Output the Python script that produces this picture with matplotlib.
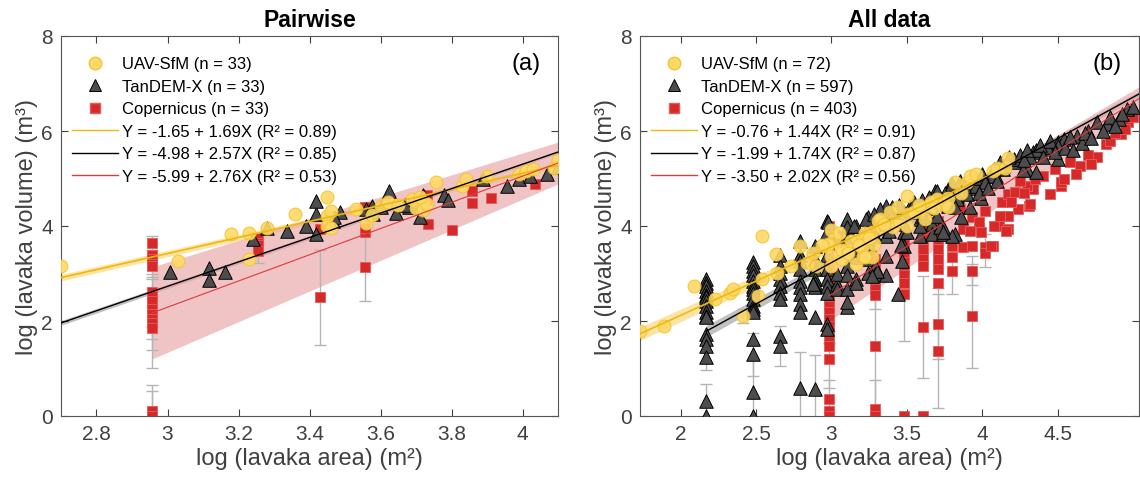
import numpy as np
import matplotlib
matplotlib.use("Agg")
import matplotlib.pyplot as plt
from matplotlib.lines import Line2D

plt.rcParams['font.family'] = ['Liberation Sans', 'DejaVu Sans']

# ---------------- panel (a): pairwise ----------------
uav_a_x = [2.70, 3.03, 3.18, 3.23, 3.23, 3.28, 3.36, 3.45, 3.45, 3.46, 3.45, 3.46,
           3.53, 3.56, 3.575, 3.60, 3.62, 3.65, 3.69, 3.70, 3.72, 3.72, 3.73, 3.755,
           3.83, 3.84, 3.90, 3.99, 4.01, 4.03, 4.09, 4.10, 3.71]
uav_a_y = [3.16, 3.27, 3.83, 3.85, 3.31, 3.95, 4.25, 4.62, 4.22, 4.32, 3.99, 3.95,
           4.35, 4.07, 4.24, 4.42, 4.51, 4.45, 4.57, 4.37, 4.53, 4.33, 4.47, 4.92,
           4.84, 4.98, 5.06, 5.10, 5.15, 5.20, 5.22, 5.38, 4.62]

tdx_a_x = [3.007, 3.118, 3.118, 3.162, 3.242, 3.28, 3.336, 3.39, 3.418, 3.418, 3.418,
           3.467, 3.486, 3.56, 3.575, 3.625, 3.645, 3.68, 3.71, 3.72, 3.78, 3.79, 3.89,
           3.955, 3.99, 4.07, 4.10, 3.67, 3.58, 3.47, 3.60, 3.70, 4.02]
tdx_a_y = [3.03, 3.11, 2.86, 3.03, 3.73, 3.95, 3.89, 4.01, 3.83, 4.25, 4.53,
           4.11, 4.30, 4.36, 4.43, 4.74, 4.28, 4.40, 4.20, 4.66, 4.65, 4.55, 4.98,
           4.85, 5.00, 5.10, 5.25, 4.45, 4.25, 4.18, 4.40, 4.48, 5.05]

cop_a_x = [2.955] * 15 + [3.255, 3.255, 3.255, 3.255, 3.43, 3.43, 3.556, 3.556, 3.556,
           3.556, 3.73, 3.73, 3.735, 3.80, 3.857, 3.857, 3.91, 4.035]
cop_a_y = [3.64, 3.40, 3.30, 3.20, 3.15, 2.62, 2.52, 2.43, 2.25, 2.15, 2.05, 1.95, 1.85,
           0.10, 0.0,
           3.75, 3.65, 3.60, 3.47, 2.50, 3.94, 3.13, 3.87, 3.95, 4.39, 4.65, 4.55,
           4.04, 3.92, 4.73, 4.48, 4.60, 4.88]
# error bars on single Copernicus points (x, y, half-length)
err_a = [(2.955, 0.0, 0.53), (2.955, 0.10, 0.56), (2.955, 1.85, 0.45),
         (2.955, 1.95, 0.94), (2.955, 2.15, 0.52), (2.955, 2.43, 0.56),
         (2.955, 3.15, 0.22), (2.955, 3.64, 0.15), (3.255, 3.47, 0.25),
         (3.43, 2.50, 1.0), (3.556, 3.13, 0.70)]

# fits: intercept, slope, R2, x-range, band half-width at both ends
fit_a_uav = (-1.65, 1.69, 0.89, (2.70, 4.10), (0.07, 0.05))
fit_a_tdx = (-4.98, 2.57, 0.85, (2.70, 4.10), (0.05, 0.03))
fit_a_cop = (-5.99, 2.76, 0.53, (2.955, 4.10), (0.97, 0.44))

# ---------------- panel (b): all data ----------------
uav_b_x = [1.73, 1.89, 2.09, 2.23, 2.33, 2.35, 2.41, 2.51, 2.54, 2.54, 2.63, 2.64,
           2.73, 2.79, 2.84, 2.88, 2.90, 2.97, 3.00, 3.00, 3.02, 3.07, 3.10, 3.13,
           3.16, 3.21, 3.21, 3.27, 3.27, 3.31, 2.98, 3.00, 3.07, 3.11, 3.20, 3.22,
           3.22, 3.28, 3.32, 3.33, 3.39, 3.41, 3.50, 3.50, 3.51, 3.59, 3.62, 3.64,
           3.70, 3.74, 3.77, 3.77, 3.82, 3.90, 3.92, 3.96, 4.07, 4.10, 4.15, 4.17,
           3.45, 3.55, 3.66, 3.68, 3.35, 3.18, 3.05, 2.94, 3.44, 3.58, 3.25, 3.86]
uav_b_y = [1.78, 1.89, 2.73, 2.46, 2.59, 2.67, 2.11, 2.52, 3.78, 2.88, 3.41, 3.01,
           3.16, 3.57, 3.22, 3.44, 3.16, 3.57, 3.92, 3.37, 3.73, 3.30, 3.48, 3.69,
           3.20, 3.71, 3.37, 3.88, 3.34, 4.11, 3.62, 3.16, 3.50, 3.44, 3.55, 3.86,
           3.34, 3.62, 4.15, 3.97, 4.29, 3.97, 4.64, 4.01, 4.25, 4.36, 4.15, 4.43,
           4.57, 4.46, 4.60, 4.39, 4.93, 4.92, 5.06, 5.09, 5.16, 5.23, 5.23, 5.43,
           4.10, 4.30, 4.50, 4.38, 4.05, 3.60, 3.85, 3.60, 4.40, 4.45, 3.75, 4.70]

tdx_b_cols = {
    2.17: [2.88, 2.80, 2.74, 2.64, 2.55, 2.50, 2.43, 2.32, 2.18, 2.11, 2.08, 1.73,
           1.62, 1.48, 1.24, 0.32, 0.01],
    2.48: [3.24, 3.16, 3.06, 2.96, 2.85, 2.74, 2.67, 2.60, 2.46, 2.32, 2.25, 2.18,
           1.62, 1.30, 0.50, 0.0],
    2.66: [3.39, 3.16, 3.02, 2.88, 2.74, 2.60, 2.46, 1.69, 1.48],
    2.79: [3.69, 3.39, 3.27, 3.09, 2.85, 2.71, 2.57, 2.36, 2.18, 0.60],
    2.89: [3.58, 3.30, 3.09, 2.88, 2.81, 2.71, 2.08, 0.57],
    2.97: [4.11, 3.87, 3.62, 3.39, 3.09, 2.88, 2.74, 2.60, 1.94, 1.83],
}
tdx_b_x = [3.04, 3.04, 3.04, 3.10, 3.10, 3.10, 3.10, 3.10, 3.10, 3.16, 3.16, 3.16,
           3.24, 3.24, 3.24, 3.24, 3.24, 3.24, 3.29, 3.29, 3.29, 3.29, 3.36, 3.36,
           3.36, 3.36, 3.36, 3.44, 3.48, 3.48, 3.48, 3.59, 3.59, 3.67, 3.67, 3.74,
           3.74, 3.82, 2.98, 3.23, 3.32, 3.41, 3.52, 3.69, 3.77, 3.83, 3.92, 3.99,
           4.09, 4.14, 4.21, 4.30, 4.34, 4.43, 4.50, 3.30, 3.27, 3.16, 3.10, 2.88,
           3.47, 3.72, 3.80, 4.96, 4.91, 4.83, 4.76, 4.70, 4.63, 4.54, 4.50, 4.43,
           4.36, 4.32, 4.27, 4.36, 4.50, 4.21, 4.14, 4.05, 3.96, 3.90, 3.83, 3.77,
           3.70, 3.70, 3.61, 3.59, 3.50, 3.74, 3.46, 3.55, 3.60, 3.65, 3.75, 3.80,
           3.85, 3.88, 3.95, 4.00, 4.02, 4.08, 4.12, 4.18, 4.25, 4.28, 4.30, 4.38,
           4.40, 4.45, 4.48, 4.55, 4.58, 4.60, 4.66, 4.68, 4.72, 4.80, 4.85, 4.88,
           4.93, 5.00, 3.45, 3.40, 3.35, 3.28, 3.15, 3.05, 3.58, 3.63, 3.72, 3.82,
           3.86, 3.92, 3.98, 4.04, 4.10, 3.48, 3.38, 3.25, 3.15, 3.10]
tdx_b_y = [2.78, 2.67, 2.99, 4.15, 3.97, 3.16, 2.96, 2.67, 2.29, 3.99, 3.34, 2.88,
           4.18, 3.97, 3.73, 3.55, 3.30, 3.02, 4.08, 3.80, 3.16, 2.99, 4.43, 4.04,
           3.80, 3.37, 2.96, 2.57, 4.29, 3.87, 3.58, 4.15, 3.80, 4.04, 3.83, 3.97,
           3.83, 3.83, 4.08, 4.15, 4.36, 4.29, 4.43, 4.74, 4.78, 4.64, 4.81, 4.60,
           5.06, 5.20, 5.34, 5.20, 5.55, 5.62, 5.76, 3.06, 2.95, 2.81, 2.39, 2.78,
           3.27, 3.97, 3.80, 6.46, 6.25, 6.15, 6.18, 6.01, 5.90, 5.83, 5.69, 5.66,
           5.59, 5.45, 5.17, 5.13, 5.41, 5.41, 5.27, 5.06, 4.85, 4.67, 4.57, 4.43,
           4.74, 4.22, 4.22, 4.01, 3.87, 3.87, 3.59, 4.50, 4.55, 4.62, 4.70, 4.88,
           4.95, 4.85, 5.02, 5.10, 4.92, 5.20, 5.35, 5.45, 5.50, 5.38, 5.60, 5.70,
           5.45, 5.80, 5.55, 5.65, 5.88, 5.60, 5.75, 5.95, 5.85, 6.00, 6.30, 6.10,
           6.35, 6.50, 4.45, 4.40, 4.20, 4.25, 4.00, 3.80, 4.30, 4.38, 4.50, 4.40,
           4.20, 4.40, 4.70, 4.80, 4.95, 4.05, 3.90, 3.60, 3.55, 3.70]

cop_b_cols = {
    2.985: [4.01, 3.87, 3.73, 3.58, 3.44, 3.30, 3.16, 3.02, 2.88, 2.74, 2.60, 2.46,
            2.32, 2.18, 2.04, 1.90, 1.76, 1.62, 1.48, 1.20, 0.36, 0.11, 0.0],
    3.29: [3.30, 3.09, 2.81, 2.67, 2.55, 1.48, 0.15, 0.01],
    3.48: [3.65, 3.52, 3.38, 3.24, 3.10, 2.96, 2.81, 2.57, 0.0],
    3.61: [4.36, 4.20, 4.05, 3.94, 3.73, 3.52, 3.30, 3.16, 1.87, 0.0],
    3.71: [4.10, 3.73, 3.52, 3.30, 3.10, 2.81, 1.94, 1.37],
}
cop_b_x = [3.80, 3.80, 3.80, 3.87, 3.87, 3.93, 3.93, 3.93, 4.02, 4.02, 4.07, 4.11,
           4.17, 4.17, 4.24, 4.31, 4.34, 4.45, 4.52, 3.85, 3.93, 4.02, 4.13, 4.17,
           3.98, 4.97, 4.92, 4.82, 4.76, 4.65, 4.52, 4.32, 4.30, 4.22, 4.19, 4.12,
           4.16, 4.08, 3.99, 3.98, 3.92, 4.06, 4.54, 4.40, 4.48, 4.58, 4.62, 4.70,
           4.72, 4.85, 4.88, 4.95, 5.00, 4.35, 4.25, 4.28]
cop_b_y = [3.58, 3.34, 3.06, 3.94, 3.55, 3.58, 3.06, 2.11, 3.55, 3.44, 3.58, 4.00,
           3.94, 4.22, 4.36, 4.43, 4.78, 4.67, 4.85, 4.36, 4.18, 4.32, 4.50, 4.67,
           3.94, 6.18, 5.94, 5.73, 5.45, 5.27, 4.92, 4.46, 4.85, 4.71, 4.50, 4.22,
           3.90, 4.01, 3.87, 4.08, 3.90, 3.58, 4.99, 5.05, 5.20, 5.35, 5.10, 5.50,
           5.30, 5.80, 5.95, 6.05, 6.30, 5.00, 4.95, 4.70]

err_b = [(3.29, 1.48, 1.45), (3.29, 0.15, 0.60), (3.29, 2.55, 0.30),
         (2.985, 1.20, 0.60), (2.985, 0.36, 0.40), (2.985, 2.04, 0.50),
         (3.48, 2.57, 1.00), (3.61, 1.87, 1.08), (3.71, 1.37, 1.20),
         (3.71, 1.94, 0.75), (3.80, 3.06, 0.50), (3.93, 2.11, 1.10),
         (4.02, 3.48, 0.35), (3.93, 3.06, 0.30),
         (2.17, 1.24, 0.28), (2.17, 0.32, 0.36), (2.48, 0.50, 0.70),
         (2.48, 1.30, 0.45), (2.66, 1.48, 0.42), (2.79, 0.60, 0.75),
         (2.89, 0.57, 0.72), (2.41, 2.11, 0.15)]

fit_b_uav = (-0.76, 1.44, 0.91, (1.73, 4.17), (0.14, 0.08))
fit_b_tdx = (-1.99, 1.74, 0.87, (2.17, 5.04), (0.12, 0.06))
fit_b_cop = (-3.50, 2.02, 0.56, (2.985, 5.04), (0.53, 0.25))

n_a = (33, 33, 33)
n_b = (72, 597, 403)

YEL, YEL_E, YEL_B = '#FFD966', '#F4C430', '#FBD873'
GRY, GRY_B = '#4D4D4D', '#A0A0A0'
RED, RED_E, RED_B = '#D62A2A', '#E85A5A', '#E8A3A6'
AX_C = '#404040'


def cols_to_xy(cols, xs, ys):
    cx = [k for k, v in cols.items() for _ in v]
    cy = [y for v in cols.values() for y in v]
    return cx + list(xs), cy + list(ys)


def draw_fit(ax, fit, color, band, lw):
    b0, b1, r2, (x0, x1), (w0, w1) = fit
    xx = np.array([x0, x1])
    yy = b0 + b1 * xx
    ax.fill_between(xx, yy - [w0, w1], yy + [w0, w1], color=band,
                    alpha=0.65, lw=0, zorder=1)
    ax.plot(xx, yy, color=color, lw=lw, zorder=6)
    return f"Y = {b0:.2f} + {b1:.2f}X (R\u00b2 = {r2:.2f})"


def panel(ax, uav, tdx, cop, errs, fits, ns, title, tag, xlim, xticks):
    for x, y, e in errs:
        ax.errorbar(x, y, yerr=e, fmt='none', ecolor='#B5B5B5', elinewidth=1,
                    capsize=4, capthick=1, zorder=1.5)
    ax.scatter(*cop, marker='s', s=55, facecolor=RED, edgecolor=RED_E,
               linewidth=0.6, zorder=2)
    ax.scatter(*tdx, marker='^', s=95, facecolor=GRY, edgecolor='black',
               linewidth=0.7, zorder=3)
    ax.scatter(*uav, marker='o', s=85, facecolor=YEL, edgecolor=YEL_E,
               linewidth=0.8, alpha=0.9, zorder=4)
    lab_u = draw_fit(ax, fits[0], '#EDB90F', YEL_B, 1.2)
    lab_t = draw_fit(ax, fits[1], 'black', GRY_B, 1.0)
    lab_c = draw_fit(ax, fits[2], '#E03A3A', RED_B, 0.8)

    handles = [
        Line2D([], [], ls='none', marker='o', ms=9, mfc=YEL, mec=YEL_E),
        Line2D([], [], ls='none', marker='^', ms=9, mfc=GRY, mec='black', mew=0.7),
        Line2D([], [], ls='none', marker='s', ms=7, mfc=RED, mec=RED_E),
        Line2D([], [], color='#EDB90F', lw=1),
        Line2D([], [], color='black', lw=1),
        Line2D([], [], color='#E03A3A', lw=1),
    ]
    labels = [f"UAV-SfM (n = {ns[0]})", f"TanDEM-X (n = {ns[1]})",
              f"Copernicus (n = {ns[2]})", lab_u, lab_t, lab_c]
    ax.legend(handles, labels, loc='upper left', frameon=False, fontsize=12,
              handlelength=2.75, handletextpad=0.25, labelspacing=0.45,
              borderaxespad=0.25, bbox_to_anchor=(0.0, 0.975))

    ax.set_xlim(*xlim)
    ax.set_ylim(0, 8)
    ax.set_xticks(xticks)
    ax.set_xticklabels([f"{t:g}" for t in xticks])
    ax.set_yticks([0, 2, 4, 6, 8])
    ax.tick_params(direction='in', top=True, right=True, length=5, width=0.8,
                   labelsize=15, colors=AX_C, pad=6)
    for s in ax.spines.values():
        s.set_color('#555555')
        s.set_linewidth(0.8)
    ax.set_xlabel("log (lavaka area) (m\u00b2)", fontsize=17, color=AX_C, labelpad=3)
    ax.set_ylabel("log (lavaka volume) (m\u00b3)", fontsize=17, color=AX_C, labelpad=2)
    ax.set_title(title, fontsize=16.5, fontweight='bold', color='black', pad=7)
    ax.text(0.965, 0.93, tag, transform=ax.transAxes, fontsize=17,
            ha='right', va='center', color='black')


fig = plt.figure(figsize=(11.4, 4.85), dpi=100)
ax_a = fig.add_axes([61 / 1140, 68 / 485, 497 / 1140, 380 / 485])
ax_b = fig.add_axes([640 / 1140, 68 / 485, 499 / 1140, 380 / 485])

panel(ax_a, (uav_a_x, uav_a_y), (tdx_a_x, tdx_a_y), (cop_a_x, cop_a_y), err_a,
      (fit_a_uav, fit_a_tdx, fit_a_cop), n_a, "Pairwise", "(a)",
      (2.70, 4.10), [2.8, 3.0, 3.2, 3.4, 3.6, 3.8, 4.0])
panel(ax_b, (uav_b_x, uav_b_y), cols_to_xy(tdx_b_cols, tdx_b_x, tdx_b_y),
      cols_to_xy(cop_b_cols, cop_b_x, cop_b_y), err_b,
      (fit_b_uav, fit_b_tdx, fit_b_cop), n_b, "All data", "(b)",
      (1.73, 5.04), [2.0, 2.5, 3.0, 3.5, 4.0, 4.5])

fig.savefig("out.png", dpi=100)
